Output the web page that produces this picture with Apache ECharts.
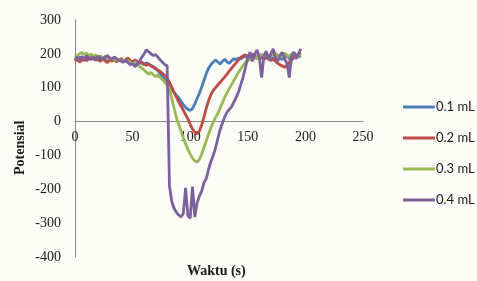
<!DOCTYPE html>
<html>
<head>
<meta charset="utf-8">
<script src="https://cdn.jsdelivr.net/npm/echarts@6/dist/echarts.min.js"></script>
<style>
html,body{margin:0;padding:0;background:#fbfcf5;}
#chart{width:477px;height:281px;}
</style>
</head>
<body>
<div id="chart"></div>
<script>
// time in seconds, step 2 s
const times = [];
for (let t = 0; t <= 196; t += 2) times.push(t);

const seriesNames = ['0.1 mL', '0.2 mL', '0.3 mL', '0.4 mL'];

const blue = [188,182,190,185,180,187,184,190,186,181,185,189,183,187,182,185,180,184,178,183,
  179,175,181,177,173,178,174,170,176,172,168,173,170,166,162,158,150,142,132,122,
  112,103,94,86,78,70,60,50,42,36,33,38,52,68,84,102,122,142,158,168,
  176,182,176,170,178,184,176,172,180,186,182,188,185,190,194,188,192,197,190,186,
  193,198,191,186,195,190,185,192,196,188,183,190,196,186,180,192,198,190,195];

const red = [178,185,175,182,188,180,186,191,184,189,183,178,185,180,174,182,178,184,176,181,
  186,179,183,188,180,176,182,178,172,176,170,166,170,164,160,156,152,148,142,136,
  128,116,102,86,72,58,46,34,20,8,-8,-22,-32,-36,-28,-10,14,40,62,80,
  92,100,108,116,124,132,140,150,158,166,174,182,190,194,197,192,196,199,194,190,
  195,188,184,190,186,180,184,178,172,168,164,160,166,175,182,190,196,200,204];

const green = [190,196,200,204,198,202,195,199,193,197,190,194,188,192,185,189,183,187,180,184,
  178,182,176,180,174,170,175,169,163,158,152,146,140,145,138,133,137,130,124,116,
  108,96,68,40,12,-8,-28,-48,-66,-82,-96,-108,-116,-120,-112,-96,-76,-56,-36,-18,
  -2,12,24,40,56,72,86,98,110,122,134,146,156,166,174,180,184,188,192,186,
  192,198,194,200,196,192,198,202,195,190,197,202,196,192,199,204,197,192,200];

const purple = [182,190,185,192,186,194,188,183,190,186,193,188,182,190,195,188,184,191,186,180,
  180,176,182,174,168,172,162,170,178,190,200,212,206,200,195,198,190,182,175,168,
  165,-190,-236,-256,-268,-276,-282,-272,-196,-278,-286,-192,-282,-240,-220,-205,-180,-168,-140,-118,
  -100,-78,-50,-24,-4,14,28,36,44,58,72,88,110,132,160,190,205,178,198,212,
  190,130,195,208,182,200,215,188,178,196,204,186,172,130,195,205,185,200,215];

const colors = ['#4a7ebb', '#be4b48', '#98b954', '#7d60a0'];
const xTicks = {min: 0, max: 250, interval: 50};
const yTicks = {min: -400, max: 300, interval: 100};

function pairs(vals) { return vals.map((v, i) => [times[i], v]); }

const gridH = 237;
// move the x axis (line and labels) up to y = 0
const zeroOffset = -gridH * (0 - yTicks.min) / (yTicks.max - yTicks.min);

const chart = echarts.init(document.getElementById('chart'));
const allVals = [blue, red, green, purple];
chart.setOption({
  animation: false,
  backgroundColor: '#fbfcf5',
  grid: {left: 75, top: 20, width: 288, height: gridH},
  xAxis: {
    type: 'value', min: xTicks.min, max: xTicks.max, interval: xTicks.interval,
    position: 'bottom', offset: zeroOffset,
    axisLine: {onZero: false, lineStyle: {color: '#868686', width: 1}},
    axisTick: {show: false},
    splitLine: {show: false},
    axisLabel: {fontFamily: 'Liberation Serif', fontSize: 14, color: '#1a1a1a', margin: 9}
  },
  yAxis: {
    type: 'value', min: yTicks.min, max: yTicks.max, interval: yTicks.interval,
    axisLine: {show: true, lineStyle: {color: '#868686', width: 1}},
    axisTick: {show: false},
    splitLine: {show: false},
    axisLabel: {fontFamily: 'Liberation Serif', fontSize: 14, color: '#1a1a1a', margin: 14}
  },
  legend: {
    orient: 'vertical', left: 398, top: 95,
    icon: 'rect', itemWidth: 32, itemHeight: 3, itemGap: 17,
    textStyle: {fontFamily: 'Lato', fontSize: 13, color: '#1a1a1a', lineHeight: 14, padding: [0,0,0,-4]},
    data: seriesNames
  },
  graphic: [
    {type: 'text', left: 187, top: 264, style: {text: 'Waktu (s)', font: 'bold 14px "Liberation Serif"', fill: '#1a1a1a'}},
    {type: 'text', x: 13, y: 175, rotation: Math.PI/2, style: {text: 'Potensial', font: 'bold 14px "Liberation Serif"', fill: '#1a1a1a'}}
  ],
  series: allVals.map((vals, k) => ({
    name: seriesNames[k], type: 'line', data: pairs(vals), showSymbol: false, symbol: 'none',
    lineStyle: {color: colors[k], width: 2.8}, itemStyle: {color: colors[k]}
  }))
});
</script>
</body>
</html>
